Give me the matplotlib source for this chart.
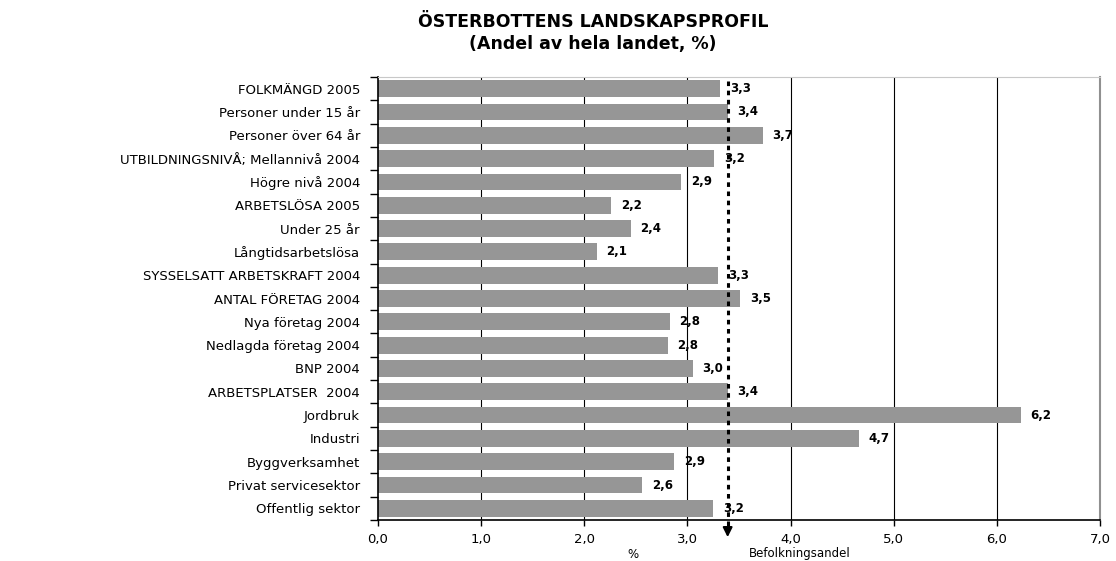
import matplotlib
matplotlib.use("Agg")
import matplotlib.pyplot as plt
from matplotlib.ticker import FixedLocator, NullFormatter

categories = [
    "FOLKMÄNGD 2005", "Personer under 15 år", "Personer över 64 år",
    "UTBILDNINGSNIVÅ; Mellannivå 2004", "Högre nivå 2004", "ARBETSLÖSA 2005",
    "Under 25 år", "Långtidsarbetslösa", "SYSSELSATT ARBETSKRAFT 2004",
    "ANTAL FÖRETAG 2004", "Nya företag 2004", "Nedlagda företag 2004",
    "BNP 2004", "ARBETSPLATSER  2004", "Jordbruk", "Industri",
    "Byggverksamhet", "Privat servicesektor", "Offentlig sektor",
]
values = [3.32, 3.39, 3.73, 3.26, 2.94, 2.26, 2.45, 2.12, 3.30, 3.51,
          2.83, 2.81, 3.05, 3.39, 6.23, 4.66, 2.87, 2.56, 3.25]
labels = ["3,3", "3,4", "3,7", "3,2", "2,9", "2,2", "2,4", "2,1", "3,3", "3,5",
          "2,8", "2,8", "3,0", "3,4", "6,2", "4,7", "2,9", "2,6", "3,2"]
population_share = 3.39
xticks = [0, 1, 2, 3, 4, 5, 6, 7]
xticklabels = ["0,0", "1,0", "2,0", "3,0", "4,0", "5,0", "6,0", "7,0"]

plt.rcParams['font.family'] = ['DejaVu Sans']

W, H = 1116, 561
fig = plt.figure(figsize=(W / 100, H / 100), dpi=100)
ax = fig.add_axes([378 / W, 1 - 520 / H, (1100 - 378) / W, (520 - 77) / H])

n = len(categories)
ypos = list(range(n))
ax.barh(ypos, values, height=0.72, color="#969696", zorder=2)
ax.set_ylim(n - 0.5, -0.5)
ax.set_xlim(0, 7)

for y, v, lab in zip(ypos, values, labels):
    ax.annotate(lab, (v, y), xytext=(7, 0), textcoords="offset points",
                va="center", ha="left", fontsize=8.5, fontweight="bold",
                color="black", zorder=4)

ax.set_xticks(xticks)
ax.set_xticklabels(xticklabels, fontsize=9.5)
ax.set_yticks(ypos)
ax.set_yticklabels(categories, fontsize=9.5)
ax.tick_params(axis="y", which="major", length=0, pad=13)
ax.yaxis.set_minor_locator(FixedLocator([i - 0.5 for i in range(n + 1)]))
ax.yaxis.set_minor_formatter(NullFormatter())
ax.tick_params(axis="y", which="minor", length=6, width=1, direction="out")
ax.tick_params(axis="x", length=4, width=1, direction="out", pad=5)

for x in xticks[1:-1]:
    ax.axvline(x, color="black", lw=0.8, zorder=1)

for s in ["left", "bottom"]:
    ax.spines[s].set_color("black")
    ax.spines[s].set_linewidth(1.2)
ax.spines["right"].set_color("#909090")
ax.spines["right"].set_linewidth(1.5)
ax.spines["top"].set_linewidth(0.8)
ax.spines["top"].set_color("#c8c8c8")

# dashed reference line with arrow
trans = ax.get_xaxis_transform()
ax.plot([population_share, population_share], [0.99, -0.025], transform=trans,
        color="black", lw=2.2, linestyle=(0, (1.5, 1.5)), clip_on=False, zorder=5)
ax.annotate("", xy=(population_share, -0.045), xytext=(population_share, -0.02),
            xycoords=trans, textcoords=trans,
            arrowprops=dict(arrowstyle="-|>", color="black", lw=1.5,
                            mutation_scale=14), annotation_clip=False)

fig.text(633 / W, 1 - 554 / H, "%", fontsize=8.5, ha="center", va="center")
fig.text(800 / W, 1 - 554 / H, "Befolkningsandel", fontsize=8.5, ha="center", va="center")

fig.text(593 / W, 1 - 22 / H, "ÖSTERBOTTENS LANDSKAPSPROFIL", fontsize=12.5,
         fontweight="bold", ha="center", va="center")
fig.text(593 / W, 1 - 44 / H, "(Andel av hela landet, %)", fontsize=12.5,
         fontweight="bold", ha="center", va="center")

fig.savefig("out.png", dpi=100)
